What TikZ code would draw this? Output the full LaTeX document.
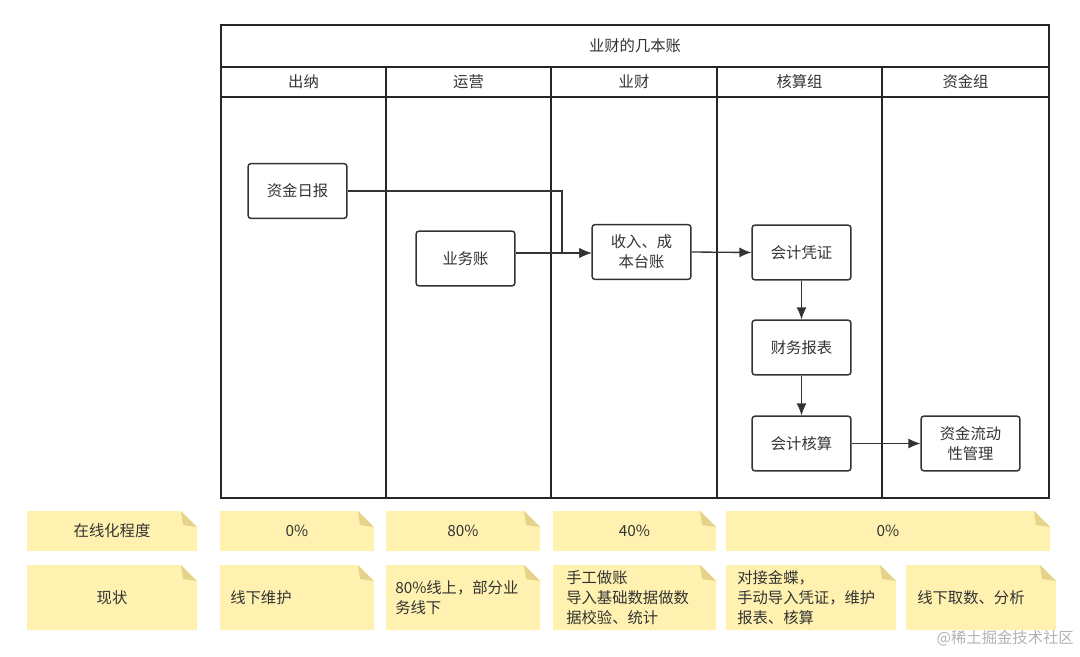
\documentclass[tikz,border=0pt]{standalone}
\usepackage{fontspec}
\usetikzlibrary{arrows.meta}
\setmainfont{Noto Sans CJK SC}
\definecolor{note}{HTML}{FFF2B0}
\definecolor{fold}{HTML}{E6D38A}
\definecolor{ln}{HTML}{333333}
\newcommand{\sticky}[6]{%
 \fill[note] (#2,#3) -- (#4-16,#3) -- (#4,#3+16) -- (#4,#5) -- (#2,#5) -- cycle;
 \fill[fold] (#4-16,#3) -- (#4,#3+16) -- (#4-14,#3+14) -- cycle;
 \node[txt,#6] (#1) at ({(#2+#4)/2},{(#3+#5)/2}) {};}
\begin{document}
\begin{tikzpicture}[x=0.75pt,y=-0.75pt,
 txt/.style={font=\fontsize{11.5}{15}\selectfont,text=ln,inner sep=0pt},
 box/.style={draw=ln,line width=1.1pt,rounded corners=2pt,minimum width=74pt,minimum height=41pt,align=center,font=\fontsize{11.5}{15}\selectfont,text=ln},
 lane/.style={draw=black!85,line width=1.2pt},
 arr/.style={draw=ln,line width=1pt,-{Latex[length=9pt,width=7.5pt]}}]
\useasboundingbox (0,0) rectangle (1080,656);
% pool
\draw[lane] (221,25) rectangle (1049,498);
\draw[lane] (221,67) -- (1049,67);
\draw[lane] (221,97) -- (1049,97);
\foreach \x in {386,551,717,882} \draw[lane] (\x,67) -- (\x,498);
\node[txt] (title) at (635,46) {业财的几本账};
\node[txt] (h1) at (303.5,82) {出纳};
\node[txt] (h2) at (468.5,82) {运营};
\node[txt] (h3) at (634,82) {业财};
\node[txt] (h4) at (799.5,82) {核算组};
\node[txt] (h5) at (965.5,82) {资金组};
% nodes
\node[box] (zjrb) at (297.5,191) {资金日报};
\node[box] (ywz) at (465.5,258.5) {业务账};
\node[box] (srcb) at (641.5,252) {收入、成\\本台账};
\node[box] (kjpz) at (801.5,252.5) {会计凭证};
\node[box] (cwbb) at (801.5,347.5) {财务报表};
\node[box] (kjhs) at (801.5,443.5) {会计核算};
\node[box] (zjld) at (970.5,443.5) {资金流动\\性管理};
\coordinate (c1) at (562,191);
\coordinate (c2) at (562,253);
\draw[arr] (zjrb.east |- 0,191) -- (c1) -- (c2) -- (srcb.west |- 0,253);
\draw[arr] (ywz.east |- 0,253) -- (srcb.west |- 0,253);
\draw[arr] (srcb.east) -- (kjpz.west);
\draw[arr] (kjpz) -- (cwbb);
\draw[arr] (cwbb) -- (kjhs);
\draw[arr] (kjhs) -- (zjld);
% stickies
\sticky{s1}{27}{511}{197}{551}{}
\node[txt] at (s1) {在线化程度};
\sticky{s2}{220}{511}{374}{551}{}
\node[txt] at (s2) {0\%};
\sticky{s3}{386}{511}{540}{551}{}
\node[txt] at (s3) {80\%};
\sticky{s4}{553}{511}{716}{551}{}
\node[txt] at (s4) {40\%};
\sticky{s5}{726}{511}{1050}{551}{}
\node[txt] at (s5) {0\%};
\sticky{t1}{27}{565}{197}{630}{}
\node[txt] at (t1) {现状};
\sticky{t2}{220}{565}{374}{630}{}
\node[txt,anchor=west] at (230,598) {线下维护};
\sticky{t3}{386}{565}{540}{630}{}
\node[txt,anchor=west,align=left] at (395,598) {80\%线上，部分业\\务线下};
\sticky{t4}{553}{565}{716}{630}{}
\node[txt,anchor=west,align=left] at (566,598) {手工做账\\导入基础数据做数\\据校验、统计};
\sticky{t5}{726}{565}{896}{630}{}
\node[txt,anchor=west,align=left] at (737,598) {对接金蝶，\\手动导入凭证，维护\\报表、核算};
\sticky{t6}{906}{565}{1056}{630}{}
\node[txt,anchor=west] at (917,598) {线下取数、分析};
\node[txt,text=black!30,anchor=east] (wm) at (1074,638) {@稀土掘金技术社区};
\end{tikzpicture}
\end{document}
